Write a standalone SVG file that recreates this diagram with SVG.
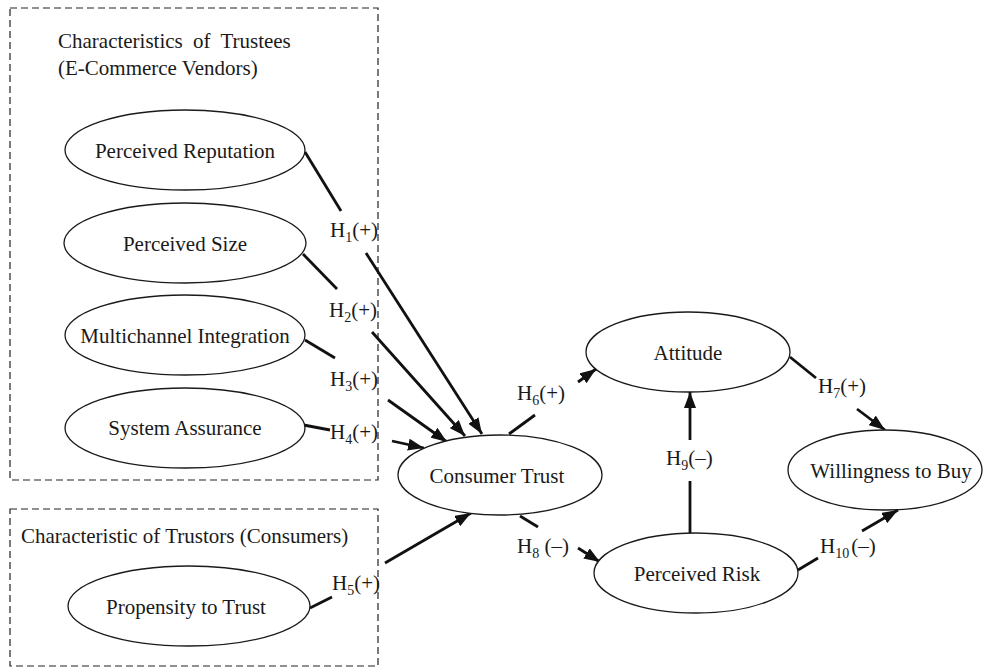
<svg xmlns="http://www.w3.org/2000/svg" width="983" height="667" viewBox="0 0 983 667">
<style>
text{font-family:"Liberation Serif","Times New Roman",serif;fill:#1a1a1a;font-size:21px}
.n{text-anchor:middle}
.e{fill:#fff;stroke:#1a1a1a;stroke-width:1.3}
.box{fill:none;stroke:#222;stroke-width:1.2;stroke-dasharray:7 4}
.c{stroke:#111;stroke-width:2.8;fill:none}
.s{font-size:14px}
</style>
<defs>
<marker id="ah" markerUnits="userSpaceOnUse" markerWidth="16" markerHeight="12" refX="16" refY="6" orient="auto">
<path d="M0,0 L16,6 L0,12 Z" fill="#111"/>
</marker>
</defs>
<rect fill="#fff" width="983" height="667"/>
<g id="trustees-box">
<rect class="box" x="10" y="8" width="368" height="472"/>
<text x="58" y="48" word-spacing="5">Characteristics of Trustees</text>
<text x="58" y="75">(E-Commerce Vendors)</text>
</g>
<g id="trustors-box">
<rect class="box" x="10" y="509" width="368" height="157"/>
<text x="21" y="543">Characteristic of Trustors (Consumers)</text>
</g>
<g id="connectors">
<line class="c" x1="305" y1="152" x2="341" y2="211"/>
<line class="c" x1="366" y1="253" x2="482" y2="434" marker-end="url(#ah)"/>
<line class="c" x1="303" y1="254" x2="337" y2="289"/>
<line class="c" x1="372" y1="332" x2="465" y2="436" marker-end="url(#ah)"/>
<line class="c" x1="305" y1="340" x2="335" y2="358"/>
<line class="c" x1="388" y1="400" x2="447" y2="442" marker-end="url(#ah)"/>
<line class="c" x1="293" y1="423" x2="330" y2="430"/>
<line class="c" x1="392" y1="441" x2="424" y2="448" marker-end="url(#ah)"/>
<line class="c" x1="310" y1="608" x2="332" y2="597"/>
<line class="c" x1="385" y1="563" x2="471" y2="513" marker-end="url(#ah)"/>
<line class="c" x1="509" y1="434" x2="535" y2="415"/>
<line class="c" x1="578" y1="382" x2="596" y2="369" marker-end="url(#ah)"/>
<line class="c" x1="790" y1="357" x2="816" y2="378"/>
<line class="c" x1="857" y1="409" x2="885" y2="430" marker-end="url(#ah)"/>
<line class="c" x1="520" y1="516" x2="538" y2="527"/>
<line class="c" x1="578" y1="548" x2="600" y2="562" marker-end="url(#ah)"/>
<line class="c" x1="690" y1="533" x2="690" y2="481"/>
<line class="c" x1="690" y1="440" x2="690" y2="392" marker-end="url(#ah)"/>
<line class="c" x1="798" y1="570" x2="818" y2="558"/>
<line class="c" x1="862" y1="531" x2="898" y2="510" marker-end="url(#ah)"/>
<text x="330" y="237">H<tspan class="s" dy="5">1</tspan><tspan dy="-5">(+)</tspan></text>
<text x="329" y="317">H<tspan class="s" dy="5">2</tspan><tspan dy="-5">(+)</tspan></text>
<text x="330" y="386">H<tspan class="s" dy="5">3</tspan><tspan dy="-5">(+)</tspan></text>
<text x="330" y="439">H<tspan class="s" dy="5">4</tspan><tspan dy="-5">(+)</tspan></text>
<text x="332" y="590">H<tspan class="s" dy="5">5</tspan><tspan dy="-5">(+)</tspan></text>
<text x="517" y="400">H<tspan class="s" dy="5">6</tspan><tspan dy="-5">(+)</tspan></text>
<text x="818" y="393">H<tspan class="s" dy="5">7</tspan><tspan dy="-5">(+)</tspan></text>
<text x="517" y="553">H<tspan class="s" dy="5">8</tspan><tspan dy="-5"> (–)</tspan></text>
<text x="666" y="465">H<tspan class="s" dy="5">9</tspan><tspan dy="-5">(–)</tspan></text>
<text x="820" y="553">H<tspan class="s" dy="5">10</tspan><tspan dy="-5" dx="2">(–)</tspan></text>
</g>
<g id="perceived-reputation">
<ellipse class="e" cx="185" cy="150" rx="120" ry="40"/>
<text class="n" x="185" y="158">Perceived Reputation</text>
</g>
<g id="perceived-size">
<ellipse class="e" cx="185" cy="243" rx="121" ry="40"/>
<text class="n" x="185" y="251">Perceived Size</text>
</g>
<g id="multichannel-integration">
<ellipse class="e" cx="185" cy="335" rx="120" ry="40"/>
<text class="n" x="185" y="343">Multichannel Integration</text>
</g>
<g id="system-assurance">
<ellipse class="e" cx="185" cy="428" rx="120" ry="40"/>
<text class="n" x="185" y="435">System Assurance</text>
</g>
<g id="propensity-to-trust">
<ellipse class="e" cx="189" cy="606" rx="121" ry="40"/>
<text class="n" x="186" y="614">Propensity to Trust</text>
</g>
<g id="consumer-trust">
<ellipse class="e" cx="500" cy="475" rx="102" ry="40"/>
<text class="n" x="497" y="483">Consumer Trust</text>
</g>
<g id="attitude">
<ellipse class="e" cx="688" cy="352" rx="102" ry="40"/>
<text class="n" x="688" y="360">Attitude</text>
</g>
<g id="willingness-to-buy">
<ellipse class="e" cx="885" cy="470" rx="97" ry="40"/>
<text class="n" x="891" y="478">Willingness to Buy</text>
</g>
<g id="perceived-risk">
<ellipse class="e" cx="696" cy="573" rx="102" ry="40"/>
<text class="n" x="697" y="581">Perceived Risk</text>
</g>
</svg>
